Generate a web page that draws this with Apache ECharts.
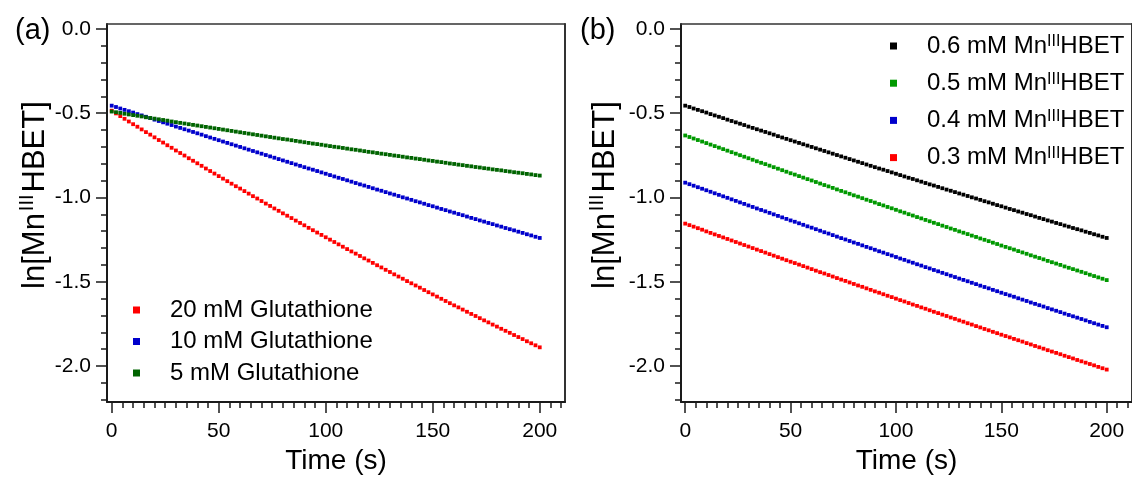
<!DOCTYPE html>
<html><head><meta charset="utf-8">
<script src="https://cdn.jsdelivr.net/npm/echarts@6/dist/echarts.min.js"></script>
<style>html,body{margin:0;padding:0;background:#fff}#c{width:1132px;height:480px}</style>
</head><body><div id="c"></div>
<script>
// ---- data ----
const times = [0,2,4,6,8,10,12,14,16,18,20,22,24,26,28,30,32,34,36,38,40,42,44,46,48,50,52,54,56,58,60,62,64,66,68,70,72,74,76,78,80,82,84,86,88,90,92,94,96,98,100,102,104,106,108,110,112,114,116,118,120,122,124,126,128,130,132,134,136,138,140,142,144,146,148,150,152,154,156,158,160,162,164,166,168,170,172,174,176,178,180,182,184,186,188,190,192,194,196,198,200];

const glut20 = [-0.485,-0.501,-0.517,-0.533,-0.549,-0.565,-0.580,-0.596,-0.612,-0.627,
-0.643,-0.659,-0.674,-0.690,-0.705,-0.721,-0.736,-0.751,-0.767,-0.782,
-0.797,-0.812,-0.828,-0.843,-0.858,-0.873,-0.888,-0.903,-0.918,-0.933,
-0.947,-0.962,-0.977,-0.992,-1.006,-1.021,-1.036,-1.050,-1.065,-1.079,
-1.094,-1.108,-1.122,-1.137,-1.151,-1.165,-1.180,-1.194,-1.208,-1.222,
-1.236,-1.250,-1.264,-1.278,-1.292,-1.306,-1.320,-1.333,-1.347,-1.361,
-1.374,-1.388,-1.402,-1.415,-1.429,-1.442,-1.456,-1.469,-1.482,-1.496,
-1.509,-1.522,-1.535,-1.549,-1.562,-1.575,-1.588,-1.601,-1.614,-1.627,
-1.640,-1.652,-1.665,-1.678,-1.691,-1.703,-1.716,-1.729,-1.741,-1.754,
-1.766,-1.779,-1.791,-1.803,-1.816,-1.828,-1.840,-1.853,-1.865,-1.877,
-1.889];

const glut10 = [-0.455,-0.463,-0.472,-0.480,-0.488,-0.496,-0.505,-0.513,-0.521,-0.529,
-0.538,-0.546,-0.554,-0.562,-0.570,-0.579,-0.587,-0.595,-0.603,-0.611,
-0.619,-0.627,-0.636,-0.644,-0.652,-0.660,-0.668,-0.676,-0.684,-0.692,
-0.700,-0.708,-0.716,-0.724,-0.732,-0.740,-0.748,-0.756,-0.764,-0.772,
-0.780,-0.788,-0.796,-0.804,-0.812,-0.820,-0.828,-0.835,-0.843,-0.851,
-0.859,-0.867,-0.875,-0.883,-0.890,-0.898,-0.906,-0.914,-0.922,-0.929,
-0.937,-0.945,-0.953,-0.960,-0.968,-0.976,-0.983,-0.991,-0.999,-1.006,
-1.014,-1.022,-1.029,-1.037,-1.045,-1.052,-1.060,-1.068,-1.075,-1.083,
-1.090,-1.098,-1.105,-1.113,-1.121,-1.128,-1.136,-1.143,-1.151,-1.158,
-1.166,-1.173,-1.181,-1.188,-1.195,-1.203,-1.210,-1.218,-1.225,-1.233,
-1.240];

const glut5 = [-0.490,-0.494,-0.498,-0.503,-0.507,-0.511,-0.515,-0.519,-0.524,-0.528,
-0.532,-0.536,-0.540,-0.544,-0.549,-0.553,-0.557,-0.561,-0.565,-0.569,
-0.573,-0.577,-0.581,-0.585,-0.589,-0.593,-0.597,-0.601,-0.605,-0.609,
-0.613,-0.617,-0.621,-0.625,-0.629,-0.633,-0.637,-0.641,-0.645,-0.649,
-0.653,-0.656,-0.660,-0.664,-0.668,-0.672,-0.676,-0.680,-0.683,-0.687,
-0.691,-0.695,-0.699,-0.702,-0.706,-0.710,-0.714,-0.717,-0.721,-0.725,
-0.729,-0.732,-0.736,-0.740,-0.743,-0.747,-0.751,-0.754,-0.758,-0.762,
-0.765,-0.769,-0.772,-0.776,-0.780,-0.783,-0.787,-0.790,-0.794,-0.798,
-0.801,-0.805,-0.808,-0.812,-0.815,-0.819,-0.822,-0.826,-0.829,-0.833,
-0.836,-0.839,-0.843,-0.846,-0.850,-0.853,-0.856,-0.860,-0.863,-0.867,
-0.870];

const mn06 = [-0.455,-0.463,-0.472,-0.480,-0.488,-0.496,-0.505,-0.513,-0.521,-0.529,
-0.538,-0.546,-0.554,-0.562,-0.570,-0.579,-0.587,-0.595,-0.603,-0.611,
-0.619,-0.627,-0.636,-0.644,-0.652,-0.660,-0.668,-0.676,-0.684,-0.692,
-0.700,-0.708,-0.716,-0.724,-0.732,-0.740,-0.748,-0.756,-0.764,-0.772,
-0.780,-0.788,-0.796,-0.804,-0.812,-0.820,-0.828,-0.835,-0.843,-0.851,
-0.859,-0.867,-0.875,-0.883,-0.890,-0.898,-0.906,-0.914,-0.922,-0.929,
-0.937,-0.945,-0.953,-0.960,-0.968,-0.976,-0.983,-0.991,-0.999,-1.006,
-1.014,-1.022,-1.029,-1.037,-1.045,-1.052,-1.060,-1.068,-1.075,-1.083,
-1.090,-1.098,-1.105,-1.113,-1.121,-1.128,-1.136,-1.143,-1.151,-1.158,
-1.166,-1.173,-1.181,-1.188,-1.195,-1.203,-1.210,-1.218,-1.225,-1.233,
-1.240];

const mn05 = [-0.632,-0.641,-0.650,-0.659,-0.668,-0.677,-0.686,-0.695,-0.704,-0.713,
-0.722,-0.731,-0.740,-0.749,-0.758,-0.767,-0.776,-0.785,-0.794,-0.802,
-0.811,-0.820,-0.829,-0.838,-0.847,-0.856,-0.864,-0.873,-0.882,-0.891,
-0.899,-0.908,-0.917,-0.926,-0.934,-0.943,-0.952,-0.961,-0.969,-0.978,
-0.987,-0.995,-1.004,-1.013,-1.021,-1.030,-1.039,-1.047,-1.056,-1.064,
-1.073,-1.082,-1.090,-1.099,-1.107,-1.116,-1.124,-1.133,-1.141,-1.150,
-1.158,-1.167,-1.175,-1.184,-1.192,-1.201,-1.209,-1.217,-1.226,-1.234,
-1.243,-1.251,-1.259,-1.268,-1.276,-1.285,-1.293,-1.301,-1.309,-1.318,
-1.326,-1.334,-1.343,-1.351,-1.359,-1.367,-1.376,-1.384,-1.392,-1.400,
-1.409,-1.417,-1.425,-1.433,-1.441,-1.449,-1.458,-1.466,-1.474,-1.482,
-1.490];

const mn04 = [-0.912,-0.921,-0.930,-0.939,-0.948,-0.957,-0.966,-0.975,-0.984,-0.993,
-1.002,-1.011,-1.020,-1.029,-1.038,-1.047,-1.056,-1.065,-1.074,-1.082,
-1.091,-1.100,-1.109,-1.118,-1.127,-1.136,-1.144,-1.153,-1.162,-1.171,
-1.179,-1.188,-1.197,-1.206,-1.214,-1.223,-1.232,-1.241,-1.249,-1.258,
-1.267,-1.275,-1.284,-1.293,-1.301,-1.310,-1.319,-1.327,-1.336,-1.344,
-1.353,-1.362,-1.370,-1.379,-1.387,-1.396,-1.404,-1.413,-1.421,-1.430,
-1.438,-1.447,-1.455,-1.464,-1.472,-1.481,-1.489,-1.497,-1.506,-1.514,
-1.523,-1.531,-1.539,-1.548,-1.556,-1.565,-1.573,-1.581,-1.589,-1.598,
-1.606,-1.614,-1.623,-1.631,-1.639,-1.647,-1.656,-1.664,-1.672,-1.680,
-1.689,-1.697,-1.705,-1.713,-1.721,-1.729,-1.738,-1.746,-1.754,-1.762,
-1.770];

const mn03 = [-1.155,-1.164,-1.173,-1.182,-1.191,-1.201,-1.210,-1.219,-1.228,-1.237,
-1.246,-1.255,-1.264,-1.273,-1.282,-1.291,-1.300,-1.309,-1.318,-1.327,
-1.336,-1.345,-1.354,-1.363,-1.372,-1.381,-1.389,-1.398,-1.407,-1.416,
-1.425,-1.434,-1.443,-1.451,-1.460,-1.469,-1.478,-1.487,-1.495,-1.504,
-1.513,-1.522,-1.530,-1.539,-1.548,-1.557,-1.565,-1.574,-1.583,-1.591,
-1.600,-1.609,-1.617,-1.626,-1.635,-1.643,-1.652,-1.660,-1.669,-1.678,
-1.686,-1.695,-1.703,-1.712,-1.720,-1.729,-1.737,-1.746,-1.754,-1.763,
-1.771,-1.780,-1.788,-1.797,-1.805,-1.814,-1.822,-1.830,-1.839,-1.847,
-1.855,-1.864,-1.872,-1.881,-1.889,-1.897,-1.906,-1.914,-1.922,-1.930,
-1.939,-1.947,-1.955,-1.964,-1.972,-1.980,-1.988,-1.996,-2.005,-2.013,
-2.021];

const xMajor = [0,50,100,150,200];
const xMinor = [0,5,10,15,20,25,30,35,40,45,50,55,60,65,70,75,80,85,90,95,100,105,110,115,120,125,130,135,140,145,150,155,160,165,170,175,180,185,190,195,200,205,210];
const yMajor = [0,-0.5,-1,-1.5,-2];
const yMinor = [0,-0.1,-0.2,-0.3,-0.4,-0.5,-0.6,-0.7,-0.8,-0.9,-1,-1.1,-1.2,-1.3,-1.4,-1.5,-1.6,-1.7,-1.8,-1.9,-2,-2.1,-2.2];

const leftNames = ['20 mM Glutathione','10 mM Glutathione','5 mM Glutathione'];
const rightNames = ['0.6 mM MnIIIHBET','0.5 mM MnIIIHBET','0.4 mM MnIIIHBET','0.3 mM MnIIIHBET'];
const rightLegendPrefix = ['0.6 mM Mn','0.5 mM Mn','0.4 mM Mn','0.3 mM Mn'];

// ---- styling ----
const F = 'Liberation Sans, Arial, Helvetica, sans-serif';
const AX = '#1a1a1a';
const RED = '#ff0000', BLUE = '#0000cc', DGREEN = '#006400', GREEN = '#009900', BLACK = '#000000';
const Y_MIN = -2.214, Y_MAX = 0.0295;

function pairs(arr){ return times.map((t,i)=>[t, arr[i]]); }

function xAxes(grid, xmin, xmax){
  return [
    {type:'value', gridIndex:grid, position:'bottom', min:xmin, max:xmax,
     splitLine:{show:false},
     axisLine:{show:true, onZero:false, lineStyle:{color:AX, width:2}},
     axisTick:{show:true, customValues:xMajor, length:11, lineStyle:{color:AX, width:1.5}},
     axisLabel:{show:true, customValues:xMajor, margin:19, fontSize:21, color:'#000', fontFamily:F},
     name:'Time (s)', nameLocation:'middle', nameGap:40,
     nameTextStyle:{fontSize:28, color:'#000', fontFamily:F}},
    {type:'value', gridIndex:grid, position:'bottom', min:xmin, max:xmax,
     splitLine:{show:false},
     axisLine:{show:false, onZero:false},
     axisTick:{show:true, customValues:xMinor, length:6, lineStyle:{color:AX, width:1.5}},
     axisLabel:{show:false}},
    {type:'value', gridIndex:grid, position:'top', min:xmin, max:xmax,
     splitLine:{show:false},
     axisLine:{show:true, onZero:false, lineStyle:{color:'#333', width:1.5}},
     axisTick:{show:false}, axisLabel:{show:false}}
  ];
}
function yAxes(grid, nameGap){
  return [
    {type:'value', gridIndex:grid, position:'left', min:Y_MIN, max:Y_MAX,
     splitLine:{show:false},
     axisLine:{show:true, onZero:false, lineStyle:{color:AX, width:2}},
     axisTick:{show:true, customValues:yMajor, length:11, lineStyle:{color:AX, width:1.5}},
     axisLabel:{show:true, customValues:yMajor, margin:16, fontSize:21, color:'#000', fontFamily:F,
                formatter:v=>Number(v).toFixed(1)},
     name:'{p|}{a|ln[Mn}{s|III}{a|HBET]}', nameLocation:'middle', nameGap:nameGap, nameRotate:90,
     nameTextStyle:{fontSize:31, color:'#000', fontFamily:F,
       rich:{p:{width:36, fontSize:31, lineHeight:36},
             a:{fontSize:31, fontFamily:F, color:'#000', lineHeight:36},
             s:{fontSize:20, fontFamily:F, color:'#000', lineHeight:20, verticalAlign:'top', padding:[0,2,0,2]}}}},
    {type:'value', gridIndex:grid, position:'left', min:Y_MIN, max:Y_MAX,
     splitLine:{show:false},
     axisLine:{show:false, onZero:false},
     axisTick:{show:true, customValues:yMinor, length:6, lineStyle:{color:AX, width:1.5}},
     axisLabel:{show:false}},
    {type:'value', gridIndex:grid, position:'right', min:Y_MIN, max:Y_MAX,
     splitLine:{show:false},
     axisLine:{show:true, onZero:false, lineStyle:{color:'#333', width:2}},
     axisTick:{show:false}, axisLabel:{show:false}}
  ];
}

function scatter(name, arr, color, xi, yi){
  return {type:'scatter', name:name, data:pairs(arr), xAxisIndex:xi, yAxisIndex:yi,
          symbol:'rect', symbolSize:3.8, itemStyle:{color:color, opacity:1}, silent:true,
          animation:false, clip:false};
}

const chart = echarts.init(document.getElementById('c'), null, {renderer:'canvas'});
chart.setOption({
  backgroundColor:'#ffffff',
  animation:false,
  grid:[
    {left:107, top:24, width:458, height:382},
    {left:681, top:24, width:458, height:382}
  ],
  xAxis: [].concat(xAxes(0, -2.2, 211.8), xAxes(1, -2.0, 212.0)),
  yAxis: [].concat(yAxes(0, 54), yAxes(1, 58)),
  legend:[
    {orient:'vertical', left:128, top:293, itemWidth:7, itemHeight:7, itemGap:7.5, icon:'rect',
     data:leftNames, selectedMode:false,
     formatter:n=>'{a|'+n+'}',
     itemStyle:{opacity:1},
     textStyle:{fontSize:24, color:'#000', fontFamily:F,
       rich:{a:{fontSize:24, fontFamily:F, color:'#000', lineHeight:28, padding:[0,0,0,25]}}}},
    {orient:'vertical', left:885, top:27, itemWidth:7, itemHeight:7, itemGap:11.2, icon:'rect',
     data:rightNames, selectedMode:false,
     itemStyle:{opacity:1},
     formatter:n=>{ const i = rightNames.indexOf(n); return '{a|'+rightLegendPrefix[i]+'}{s|III}{b|HBET}'; },
     textStyle:{fontSize:24, color:'#000', fontFamily:F,
       rich:{a:{fontSize:24, fontFamily:F, color:'#000', lineHeight:28, padding:[0,0,0,25]},
             s:{fontSize:16, fontFamily:F, color:'#000', lineHeight:16, verticalAlign:'top', padding:[2,0,0,0]},
             b:{fontSize:24, fontFamily:F, color:'#000', lineHeight:28}}}}
  ],
  graphic:[
    {type:'text', x:15, y:31, style:{text:'(a)', fontSize:29, fontFamily:F, fill:'#000', verticalAlign:'middle'}},
    {type:'text', x:580, y:31, style:{text:'(b)', fontSize:29, fontFamily:F, fill:'#000', verticalAlign:'middle'}}
  ],
  series:[
    scatter(leftNames[0], glut20, RED, 0, 0),
    scatter(leftNames[1], glut10, BLUE, 0, 0),
    scatter(leftNames[2], glut5, DGREEN, 0, 0),
    scatter(rightNames[0], mn06, BLACK, 3, 3),
    scatter(rightNames[1], mn05, GREEN, 3, 3),
    scatter(rightNames[2], mn04, BLUE, 3, 3),
    scatter(rightNames[3], mn03, RED, 3, 3)
  ]
});
</script></body></html>
